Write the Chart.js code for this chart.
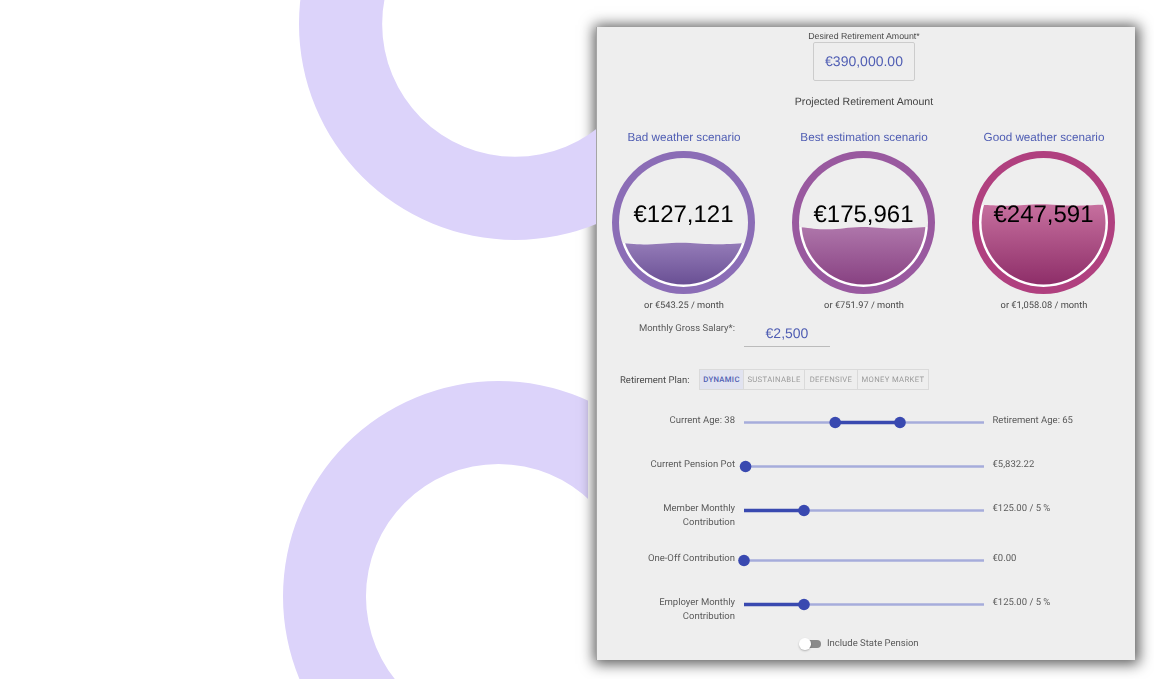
<!DOCTYPE html>
<html><head><meta charset="utf-8">
<title>Retirement calculator</title>
<script src="https://cdn.jsdelivr.net/npm/chart.js@4"></script>
<style>
html,body{margin:0;padding:0;width:1154px;height:679px;overflow:hidden;background:#fff;font-family:"Liberation Sans",Arial,sans-serif;text-rendering:geometricPrecision}
.abs{position:absolute}
canvas{display:block}
#shadow{position:absolute;left:596px;top:27px;width:539px;height:633px;box-shadow:1px 1px 13px 3px rgba(0,0,0,.65);z-index:2}
#panel{position:absolute;left:596px;top:27px;width:539px;height:633px;background:#eeeeee;z-index:4;box-sizing:border-box;border-left:1px solid #a5a5a5}
#over{position:absolute;left:0;top:0;width:1154px;height:679px;z-index:5;filter:blur(.3px)}
.t{position:absolute;white-space:nowrap;transform:translateY(-50%);line-height:1}
.c{transform:translate(-50%,-50%)}
.r{transform:translate(-100%,-50%)}
.lab{font-family:Roboto,sans-serif;font-size:9.5px;color:#5a5a5a}
.blue{color:#4f5db3}
.seg{position:absolute;top:369px;height:21px;box-sizing:border-box;border:1px solid #dadada;font-family:Roboto,sans-serif;font-size:7.7px;letter-spacing:.35px;color:#9a9a9a;text-align:center;line-height:19px}
</style></head>
<body>
<div class="abs" style="left:0;top:0;width:588px;height:679px;overflow:hidden;z-index:1"><canvas id="ring2" class="abs" style="left:283px;top:381px"></canvas></div>
<div id="shadow"></div>
<div class="abs" style="left:0;top:0;width:597px;height:679px;overflow:hidden;z-index:3"><canvas id="ring1" class="abs" style="left:299px;top:-192px"></canvas></div>
<div id="panel"></div>
<div id="over"></div>
<script>
// ---- data ----
const desiredAmount = 390000;
const scenarioNames = ["Bad weather scenario","Best estimation scenario","Good weather scenario"];
const scenarioAmounts = ["€127,121","€175,961","€247,591"];
const scenarioMonthly = ["or €543.25 / month","or €751.97 / month","or €1,058.08 / month"];
const waveX = [0,22,48,74,100];
const waveBad  = [131000,126000,131000,126500,131000];
const waveBest = [181000,173500,181000,176000,181000];
const waveGood = [251000,248000,252500,248000,251500];
const sliderNames = [["Current Age: 38"],["Current Pension Pot"],["Member Monthly","Contribution"],["One-Off Contribution"],["Employer Monthly","Contribution"]];
const sliderReadouts = ["Retirement Age: 65","€5,832.22","€125.00 / 5 %","€0.00","€125.00 / 5 %"];
const sliderMax = [100,900000,500,100000,500];
const sliderFrom = [38,0,0,0,0];
const sliderTo = [65,5832.22,125,0,125];
const planNames = ["DYNAMIC","SUSTAINABLE","DEFENSIVE","MONEY MARKET"];

// ---- styles and layout ----
const ringColors = ["#8b6db6","#99599f","#b0407f"];
const fillTop = ["#9279b6","#ad74a9","#c66f9e"];
const fillBottom = ["#674d92","#863f80","#8c2c67"];
const gaugeCx = [684,864,1044];
const sliderY = [422,466,510,560,604];
const planX = [699,743,804,857,928];

Chart.defaults.animation = false;
Chart.defaults.responsive = false;
Chart.defaults.plugins.legend.display = false;
Chart.defaults.plugins.tooltip.enabled = false;
const over = document.getElementById('over');

function text(s,x,y,cls,style){
  const d=document.createElement('div');
  d.className='t '+(cls||'');
  d.textContent=s;
  d.style.cssText='left:'+x+'px;top:'+y+'px;'+(style||'');
  over.appendChild(d);return d;
}
function canvas(x,y,w,h){
  const c=document.createElement('canvas');
  c.width=w;c.height=h;
  c.style.cssText='position:absolute;left:'+x+'px;top:'+y+'px;width:'+w+'px;height:'+h+'px;';
  over.appendChild(c);return c;
}
function bgRing(id,size){
  const c=document.getElementById(id);c.width=size;c.height=size;
  new Chart(c,{type:'doughnut',data:{datasets:[{data:[1],backgroundColor:'#dcd3fa',borderWidth:0}]},
    options:{cutout:'61.5%',layout:{padding:0}}});
}
bgRing('ring1',432);bgRing('ring2',431);

// top block
text("Desired Retirement Amount*",864,35.5,'c','font-size:8.8px;color:#4a4a4a');
const box=document.createElement('div');
box.style.cssText='position:absolute;left:813px;top:42px;width:102px;height:39px;box-sizing:border-box;border:1px solid #ccc;border-radius:2px';
over.appendChild(box);
text("€390,000.00",864,61,'c blue','font-size:14px');
text("Projected Retirement Amount",864,102,'c','font-size:10.6px;color:#444');

const waves=[waveBad,waveBest,waveGood];
// radii of the inner fill and its white rim; the rim sits just outside the fill
const fillR=62, rimR=64.5, pad=desiredAmount*(rimR-fillR)/(2*fillR);
function clipTo(r){return {id:'clipTo',
  beforeDatasetsDraw(ch){const a=ch.chartArea,g=ch.ctx;g.save();g.beginPath();
    g.arc((a.left+a.right)/2,(a.top+a.bottom)/2,r,0,Math.PI*2);g.clip();},
  afterDatasetsDraw(ch){ch.ctx.restore();}};}

function level(cx,cy,pts,color,r){
  const c=canvas(cx-rimR,cy-rimR,2*rimR,2*rimR);
  const paint=color(c);
  new Chart(c,{type:'line',
    data:{datasets:[{data:pts,fill:'start',backgroundColor:paint,borderWidth:0,pointRadius:0,tension:.4}]},
    options:{layout:{padding:0},scales:{
      x:{type:'linear',min:0,max:100,display:false},
      y:{min:-pad,max:desiredAmount+pad,display:false}}},
    plugins:[clipTo(r)]});
}

scenarioNames.forEach((name,i)=>{
  const cx=gaugeCx[i]-0.5,cy=222.5;
  text(name,gaugeCx[i],137.8,'c blue','font-size:11.7px');
  const pts=waveX.map((x,k)=>({x,y:waves[i][k]}));
  const lvl=parseFloat(scenarioAmounts[i].replace(/[^0-9]/g,''))/desiredAmount;
  level(cx,cy,pts,()=>'#ffffff',rimR);
  level(cx,cy,pts,c=>{
    const g=c.getContext('2d').createLinearGradient(0,2*rimR,0,0);
    g.addColorStop(0,fillBottom[i]);g.addColorStop(lvl,fillTop[i]);g.addColorStop(1,fillTop[i]);
    return g;},fillR);
  const c1=canvas(cx-71.5,cy-71.5,143,143);
  new Chart(c1,{type:'doughnut',data:{datasets:[
      {data:[1],backgroundColor:ringColors[i],borderWidth:0}]},
    options:{cutout:(64.5/71.5*100)+'%'}});
  text(scenarioAmounts[i],cx,214.7,'c','font-size:24px;color:#000');
  text(scenarioMonthly[i],gaugeCx[i],305.7,'c lab','font-size:9.3px;color:#4a4a4a');
});

// salary + plan
text("Monthly Gross Salary*:",735,328.7,'r lab');
text("€2,500",787,333,'c blue','font-size:14px');
const ul=document.createElement('div');
ul.style.cssText='position:absolute;left:744px;top:345.5px;width:86px;height:1px;background:#bbb';over.appendChild(ul);
text("Retirement Plan:",620,380.5,'lab','color:#4a4a4a');
planNames.forEach((p,i)=>{
  const d=document.createElement('div');d.className='seg';d.textContent=p;
  d.style.left=planX[i]+'px';
  d.style.width=(planX[i+1]-planX[i]+1)+'px';
  if(i===0){d.style.background='#e1e3f0';d.style.color='#4f5db3';d.style.fontWeight='500';}
  over.appendChild(d);
});

// sliders
sliderNames.forEach((lines,i)=>{
  const y=sliderY[i];
  lines.forEach((l,k)=>text(l,735,y-1.3+k*14,'r lab'));
  text(sliderReadouts[i],992.5,y-1.3,'lab');
  const c=canvas(734,y-12,260,25);
  const thumbs=i>0?[{x:sliderTo[i],y:0}]:[{x:sliderFrom[i],y:0},{x:sliderTo[i],y:0}];
  const active=[{x:sliderFrom[i],y:0},{x:sliderTo[i],y:0}];
  new Chart(c,{type:'line',data:{datasets:[
      {data:thumbs,showLine:false,pointRadius:5.8,pointBackgroundColor:'#3949b0',pointBorderWidth:0,order:0,clip:false},
      {data:active,borderColor:'#3949b0',borderWidth:3.6,pointRadius:0,order:1,clip:false},
      {data:[{x:0,y:0},{x:sliderMax[i],y:0}],borderColor:'#a6acdb',borderWidth:2.4,pointRadius:0,order:2,clip:false}
    ]},
    options:{layout:{padding:{left:10,right:10,top:0,bottom:0}},scales:{
      x:{type:'linear',min:0,max:sliderMax[i],display:false},
      y:{min:-1,max:1,display:false}}}});
});

// toggle
const tr=document.createElement('div');
tr.style.cssText='position:absolute;left:803px;top:639.5px;width:18px;height:8px;border-radius:4px;background:#8a8a8a';over.appendChild(tr);
const th=document.createElement('div');
th.style.cssText='position:absolute;left:799px;top:638px;width:11.5px;height:11.5px;border-radius:50%;background:#fff;box-shadow:0 1px 2px rgba(0,0,0,.25)';over.appendChild(th);
text("Include State Pension",827,643.5,'lab');
</script>
</body></html>
